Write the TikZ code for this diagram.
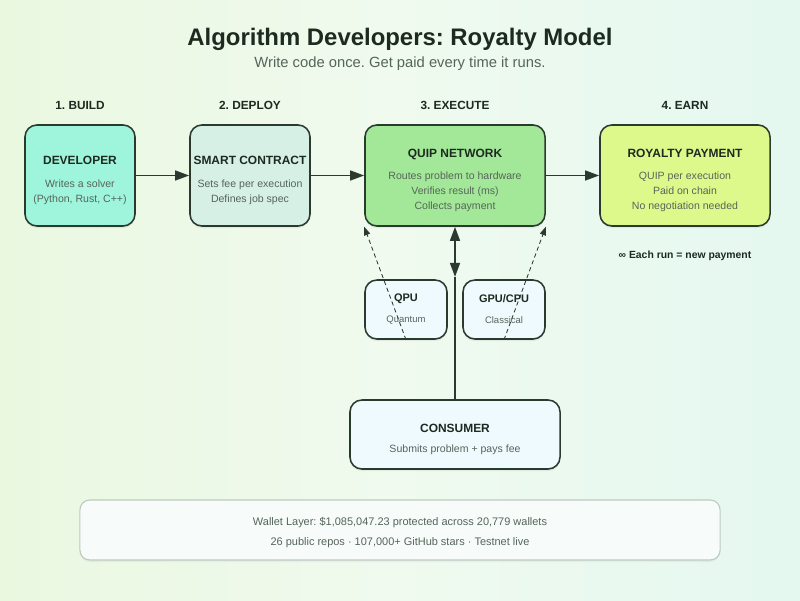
\documentclass[tikz,border=0pt]{standalone}
\usepackage{fontspec}
\setmainfont{Liberation Sans}
\frenchspacing
\usepackage{xcolor}
\usepackage{tikz}
\usetikzlibrary{arrows.meta,positioning,shadows}
\definecolor{bgleft}{HTML}{EAF8E0}
\definecolor{bgmid}{HTML}{F0FAEF}
\definecolor{bgright}{HTML}{E4F8F0}
\definecolor{headtext}{HTML}{1C2A1F}
\definecolor{bodytext}{HTML}{55655A}
\definecolor{boxline}{HTML}{2B3A2E}
\definecolor{devfill}{HTML}{9EF5DC}
\definecolor{contractfill}{HTML}{D6F0E6}
\definecolor{networkfill}{HTML}{A3E898}
\definecolor{royaltyfill}{HTML}{DEF98B}
\definecolor{hwfill}{HTML}{EEFAFD}
\definecolor{walletfill}{HTML}{F7FCFA}
\definecolor{walletline}{HTML}{BFC9C4}
\newcommand{\boxhead}[1]{{\color{headtext}\bfseries\fontsize{8.5}{8.5}\selectfont\rule{0pt}{13pt}#1}}
\newcommand{\hwhead}[1]{{\color{headtext}\bfseries\fontsize{7.8}{7.8}\selectfont #1}}
\tikzset{
    stage box/.style={draw=boxline, line width=1.1pt, rounded corners=8.5pt, align=center, inner sep=0pt,
        text=bodytext, font=\fontsize{7.5}{10.7}\selectfont,
        drop shadow={opacity=0.12, shadow xshift=0pt, shadow yshift=-1.5pt}},
    hw box/.style={stage box, fill=hwfill, minimum width=2.05cm, minimum height=1.475cm,
        font=\fontsize{6.75}{10}\selectfont},
    wallet box/.style={draw=walletline, line width=0.8pt, fill=walletfill, rounded corners=7pt, align=center,
        inner sep=0pt, minimum width=16cm, minimum height=1.5cm, text=bodytext,
        font=\fontsize{7.8}{14.2}\selectfont,
        drop shadow={opacity=0.08, shadow xshift=0pt, shadow yshift=-1.5pt}},
    step label/.style={font=\bfseries\fontsize{8.4}{10}\selectfont, text=headtext},
    flow/.style={-{Triangle[length=10pt,width=7pt]}, line width=1.4pt, draw=boxline},
    twoway/.style={{Triangle[length=10pt,width=7pt]}-{Triangle[length=10pt,width=7pt]}, line width=1.4pt, draw=boxline},
    dispatch/.style={-{Triangle[length=6pt,width=4.5pt]}, dash pattern=on 3pt off 2.2pt, line width=0.6pt, draw=boxline},
}
\tikzstyle{every node}=[font=\footnotesize]

\begin{document}
\begin{tikzpicture}[x=0.025cm,y=-0.025cm]
    \shade[left color=bgleft, right color=bgright, middle color=bgmid] (0,0) rectangle (800,600);
    \useasboundingbox (0,0) rectangle (800,600);

    \node[font=\bfseries\fontsize{17}{20}\selectfont, text=headtext] (title) at (400,39) {Algorithm Developers: Royalty Model};
    \node[font=\fontsize{10.5}{12}\selectfont, text=bodytext] (subtitle) at (400,63.5) {Write code once. Get paid every time it runs.};

    \node[step label] (build) at (80,105) {1. BUILD};
    \node[step label] (deploy) at (250,105) {2. DEPLOY};
    \node[step label] (execute) at (455,105) {3. EXECUTE};
    \node[step label] (earn) at (685,105) {4. EARN};

    \node[stage box, fill=devfill, minimum width=2.75cm, minimum height=2.525cm] (dev) at (80,175.5)
        {\boxhead{DEVELOPER}\\[5pt]Writes a solver\\(Python, Rust, C++)};
    \node[stage box, fill=contractfill, minimum width=3cm, minimum height=2.525cm] (contract) at (250,175.5)
        {\boxhead{SMART CONTRACT}\\[5pt]Sets fee per execution\\Defines job spec};
    \node[stage box, fill=networkfill, minimum width=4.5cm, minimum height=2.525cm] (network) at (455,175.5)
        {\boxhead{QUIP NETWORK}\\[5pt]Routes problem to hardware\\Verifies result (ms)\\Collects payment};
    \node[stage box, fill=royaltyfill, minimum width=4.25cm, minimum height=2.525cm] (royalty) at (685,175.5)
        {\boxhead{ROYALTY PAYMENT}\\[5pt]QUIP per execution\\Paid on chain\\No negotiation needed};
    \node[font=\bfseries\fontsize{7.4}{9}\selectfont, text=headtext] (note) at (685,256) {∞ Each run = new payment};

    \node[hw box] (qpu) at (406,309.5) {\hwhead{QPU}\\[5pt]Quantum};
    \node[hw box] (gpu) at (504,309.5) {\hwhead{GPU/CPU}\\[5pt]Classical};
    \node[stage box, fill=hwfill, minimum width=5.25cm, minimum height=1.725cm] (consumer) at (455,434.5)
        {\boxhead{CONSUMER}\\[3.5pt]Submits problem + pays fee};

    \draw[flow] (dev) -- (contract);
    \draw[flow] (contract) -- (network);
    \draw[flow] (network) -- (royalty);
    \coordinate (split) at (455,277);
    \draw[line width=1.4pt, boxline] (consumer) -- (split);
    \draw[twoway] (split) -- (network);
    \draw[dispatch] (qpu.south) -- (network.south west);
    \draw[dispatch] (gpu.south) -- (network.south east);

    \node[wallet box] (wallet) at (400,530)
        {\rule{0pt}{9.8pt}Wallet Layer: \$1,085,047.23 protected across 20,779 wallets\\26 public repos · 107,000+ GitHub stars · Testnet live};
\end{tikzpicture}
\end{document}
